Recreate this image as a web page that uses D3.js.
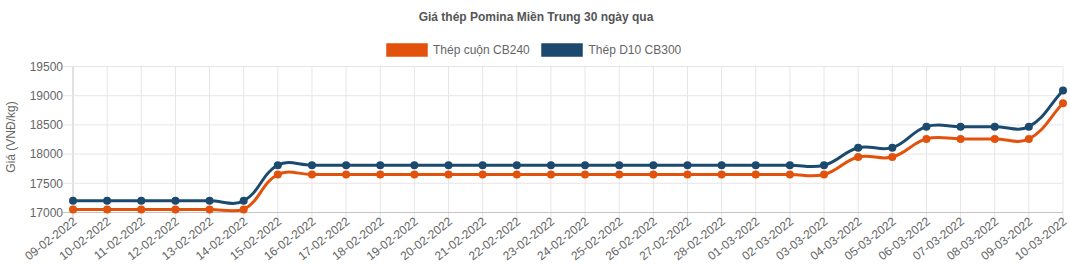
<!DOCTYPE html>
<html>
<head>
<meta charset="utf-8">
<script src="https://cdn.jsdelivr.net/npm/d3@7"></script>
<style>
  html, body { margin: 0; padding: 0; background: #fff; }
  svg { display: block; font-family: "Liberation Sans", Arial, Helvetica, sans-serif; }
  .axis text { font-size: 12px; font-family: "Liberation Sans", Arial, Helvetica, sans-serif; fill: #666; }
</style>
</head>
<body>
<svg id="chart" width="1070" height="267"></svg>
<script>
const title = "Giá thép Pomina Miền Trung 30 ngày qua";
const yAxisTitle = "Giá (VNĐ/kg)";
const categories = [
  "09-02-2022","10-02-2022","11-02-2022","12-02-2022","13-02-2022","14-02-2022",
  "15-02-2022","16-02-2022","17-02-2022","18-02-2022","19-02-2022","20-02-2022",
  "21-02-2022","22-02-2022","23-02-2022","24-02-2022","25-02-2022","26-02-2022",
  "27-02-2022","28-02-2022","01-03-2022","02-03-2022","03-03-2022","04-03-2022",
  "05-03-2022","06-03-2022","07-03-2022","08-03-2022","09-03-2022","10-03-2022"
];
const seriesNames = ["Thép cuộn CB240", "Thép D10 CB300"];
const cb240 = [
  17050,17050,17050,17050,17050,17050,
  17650,17650,17650,17650,17650,17650,
  17650,17650,17650,17650,17650,17650,
  17650,17650,17650,17650,17650,17950,
  17950,18260,18260,18260,18260,18870
];
const d10cb300 = [
  17200,17200,17200,17200,17200,17200,
  17810,17810,17810,17810,17810,17810,
  17810,17810,17810,17810,17810,17810,
  17810,17810,17810,17810,17810,18110,
  18110,18470,18470,18470,18470,19090
];
const yTicks = [17000, 17500, 18000, 18500, 19000, 19500];
const colors = ["#e2520d", "#1b4a6e"];

const svg = d3.select("#chart");
const pLeft = 73, pRight = 1063, pTop = 66.5, pBottom = 212.5;
const x = d3.scalePoint().domain(categories).range([pLeft, pRight]);
const y = d3.scaleLinear().domain([17000, 19500]).range([pBottom, pTop]);

// Chart.js-like spline curve (tension 0.4)
function ChartJsCurve(context) { this._context = context; }
ChartJsCurve.prototype = {
  areaStart() { this._line = 0; },
  areaEnd() { this._line = NaN; },
  lineStart() { this._pts = []; },
  point(px, py) { this._pts.push([+px, +py]); },
  lineEnd() {
    const p = this._pts, n = p.length, t = 0.4, c = this._context;
    if (!n) return;
    const clampY = v => Math.min(pBottom, Math.max(pTop, v));
    const cps = p.map((cur, i) => {
      const prev = p[Math.max(i - 1, 0)], next = p[Math.min(i + 1, n - 1)];
      const d01 = Math.hypot(cur[0] - prev[0], cur[1] - prev[1]);
      const d12 = Math.hypot(next[0] - cur[0], next[1] - cur[1]);
      let s01 = d01 / (d01 + d12), s12 = d12 / (d01 + d12);
      if (!isFinite(s01)) s01 = 0; if (!isFinite(s12)) s12 = 0;
      const fa = t * s01, fb = t * s12;
      const cp1 = [cur[0] - fa * (next[0] - prev[0]), clampY(cur[1] - fa * (next[1] - prev[1]))];
      const cp2 = [cur[0] + fb * (next[0] - prev[0]), clampY(cur[1] + fb * (next[1] - prev[1]))];
      return [cp1, cp2];
    });
    c.moveTo(p[0][0], p[0][1]);
    for (let i = 1; i < n; i++) {
      c.bezierCurveTo(cps[i-1][1][0], cps[i-1][1][1], cps[i][0][0], cps[i][0][1], p[i][0], p[i][1]);
    }
  }
};
const chartJsCurve = ctx => new ChartJsCurve(ctx);

// Title
svg.append("text").attr("x", 536).attr("y", 17.5)
  .attr("text-anchor", "middle").attr("dominant-baseline", "middle")
  .style("font-size", "12px").attr("font-weight", "bold").attr("fill", "#555")
  .text(title);

// Legend
const legendItems = [
  { name: seriesNames[0], color: colors[0], bx: 387, tx: 433 },
  { name: seriesNames[1], color: colors[1], bx: 542, tx: 588.5 }
];
legendItems.forEach(d => {
  svg.append("rect").attr("x", d.bx).attr("y", 44).attr("width", 40).attr("height", 12)
    .attr("fill", d.color).attr("stroke", d.color).attr("stroke-width", 1.5);
  svg.append("text").attr("x", d.tx).attr("y", 50.5).attr("dominant-baseline", "middle")
    .style("font-size", "12px").attr("fill", "#666").text(d.name);
});

// Grid
const grid = svg.append("g");
categories.forEach((c, i) => {
  grid.append("line").attr("x1", x(c)).attr("x2", x(c)).attr("y1", pTop).attr("y2", pBottom + 8)
    .attr("stroke", i === 0 ? "#c4c4c4" : "#e6e6e6").attr("stroke-width", 1);
});
yTicks.forEach((v, i) => {
  grid.append("line").attr("x1", pLeft - 10).attr("x2", pRight).attr("y1", y(v)).attr("y2", y(v))
    .attr("stroke", i === 0 ? "#c4c4c4" : "#e6e6e6").attr("stroke-width", 1);
});

// Y axis labels
const yAxis = d3.axisLeft(y).tickValues(yTicks).tickFormat(d3.format("d")).tickSize(0).tickPadding(10);
const yg = svg.append("g").attr("class", "axis").attr("transform", `translate(${pLeft},0)`).call(yAxis);
yg.attr("font-size", null).attr("font-family", null);
yg.select(".domain").remove();

// X axis labels (rotated)
const xAxis = d3.axisBottom(x).tickSize(0);
const xg = svg.append("g").attr("class", "axis").attr("transform", `translate(0,${pBottom})`).call(xAxis);
xg.attr("font-size", null).attr("font-family", null);
xg.select(".domain").remove();
xg.selectAll(".tick text")
  .attr("text-anchor", "end").attr("dy", null).attr("y", null)
  .attr("dominant-baseline", "middle")
  .attr("transform", "translate(2,8) rotate(-38)");

// Y axis title
svg.append("text").attr("transform", "translate(12,137) rotate(-90)")
  .attr("text-anchor", "middle").attr("dominant-baseline", "middle")
  .style("font-size", "12px").attr("fill", "#666").text(yAxisTitle);

// Lines & points
const series = [cb240, d10cb300];
const line = d3.line().x((d, i) => x(categories[i])).y(d => y(d)).curve(chartJsCurve);
series.forEach((vals, si) => {
  svg.append("path").datum(vals).attr("d", line)
    .attr("fill", "none").attr("stroke", colors[si]).attr("stroke-width", 3);
});
series.forEach((vals, si) => {
  svg.append("g").selectAll("circle").data(vals).join("circle")
    .attr("cx", (d, i) => x(categories[i])).attr("cy", d => y(d)).attr("r", 4)
    .attr("fill", colors[si]);
});
</script>
</body>
</html>
